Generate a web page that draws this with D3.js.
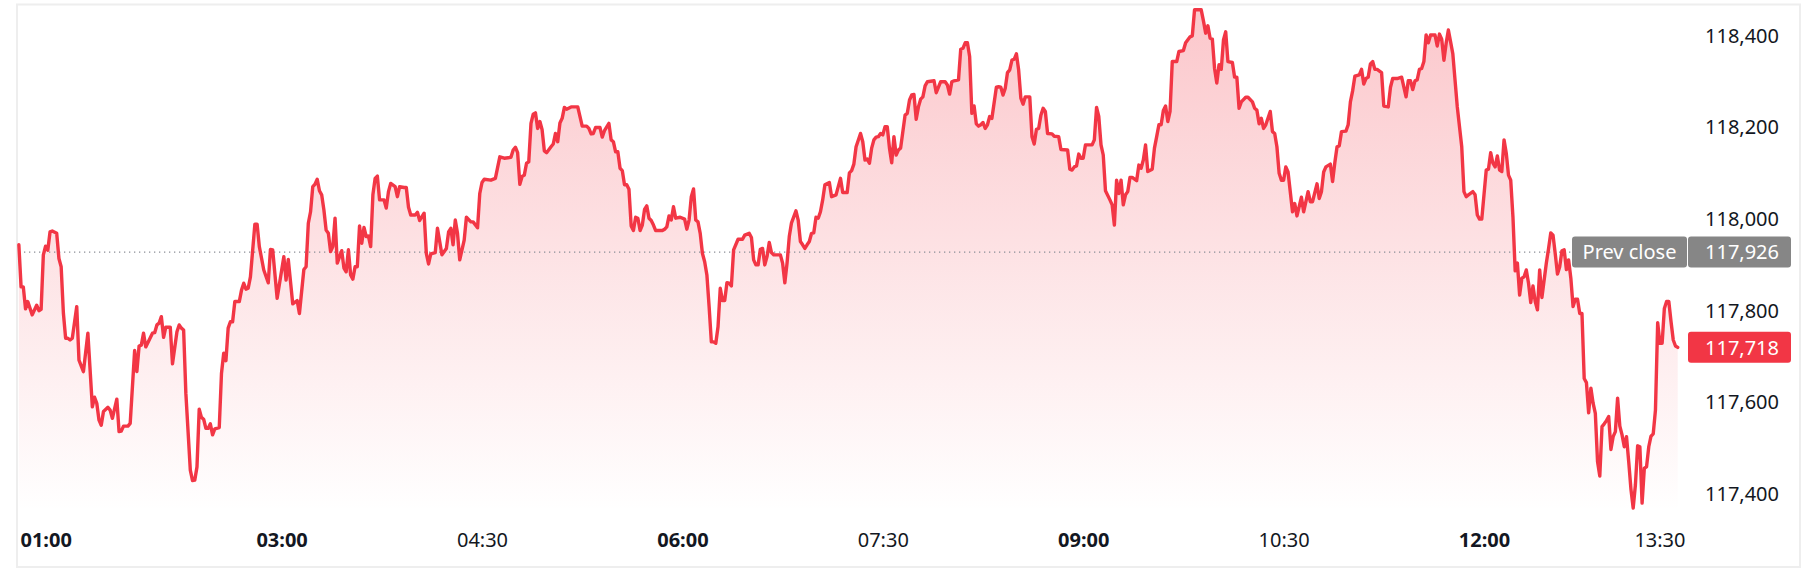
<!DOCTYPE html>
<html>
<head>
<meta charset="utf-8">
<script src="https://cdn.jsdelivr.net/npm/d3@7"></script>
<style>
  body { margin: 0; background: #fff; }
  svg { display: block; font-family: "Noto Sans", sans-serif; }
</style>
</head>
<body>
<script>
// session data: minutes after 01:00 and last price at that minute
const sessionStart = "01:00";
const sessionEnd = "13:30";

const minutes = [
  2, 3, 4, 5, 6, 8, 10, 11, 12, 13, 14, 15, 16, 17, 19, 20, 21, 22, 23, 24,
  25, 26, 28, 29, 31, 33, 35, 36, 37, 38, 39, 40, 42, 43, 44, 46, 47, 48, 49, 51,
  52, 54, 55, 56, 57, 58, 59, 62, 63, 64, 65, 66, 67, 68, 70, 71, 73, 74, 75, 76,
  77, 79, 80, 81, 82, 83, 84, 85, 86, 87, 88, 89, 90, 92, 93, 94, 95, 96, 97, 98,
  99, 101, 102, 103, 104, 105, 106, 108, 109, 110, 112, 114, 115, 116, 118, 121, 122, 123, 125, 127,
  128, 130, 131, 132, 133, 134, 135, 136, 137, 138, 139, 140, 141, 142, 143, 144, 145, 147, 148, 149,
  150, 151, 152, 153, 154, 155, 156, 157, 158, 159, 160, 161, 162, 163, 164, 166, 167, 168, 169, 171,
  172, 173, 175, 176, 177, 178, 180, 181, 182, 184, 185, 186, 187, 189, 190, 192, 194, 195, 196, 197,
  198, 199, 200, 202, 203, 205, 206, 208, 209, 210, 211, 214, 216, 218, 220, 223, 224, 225, 226, 227,
  228, 229, 230, 231, 232, 233, 234, 235, 236, 237, 238, 239, 241, 242, 243, 244, 245, 246, 247, 248,
  250, 253, 255, 257, 258, 259, 260, 261, 263, 264, 265, 267, 268, 269, 270, 271, 272, 273, 274, 275,
  276, 277, 278, 279, 280, 281, 282, 283, 284, 285, 286, 287, 288, 291, 292, 293, 294, 295, 296, 297,
  299, 301, 302, 303, 304, 305, 306, 307, 308, 309, 310, 311, 312, 313, 314, 315, 316, 317, 318, 319,
  320, 321, 322, 323, 325, 327, 328, 330, 331, 332, 333, 334, 335, 336, 337, 338, 339, 340, 341, 344,
  345, 346, 347, 348, 349, 351, 352, 353, 354, 355, 356, 357, 358, 359, 360, 361, 362, 363, 364, 366,
  367, 369, 370, 371, 372, 374, 375, 376, 377, 378, 380, 381, 382, 383, 384, 385, 386, 387, 388, 389,
  390, 391, 392, 393, 394, 395, 396, 397, 398, 400, 401, 402, 403, 404, 405, 406, 407, 408, 409, 410,
  413, 414, 415, 416, 418, 419, 420, 421, 422, 424, 425, 426, 427, 428, 429, 430, 431, 432, 433, 434,
  435, 436, 437, 438, 439, 441, 442, 443, 444, 445, 446, 447, 448, 449, 450, 451, 452, 453, 454, 456,
  457, 458, 459, 460, 461, 462, 463, 464, 466, 467, 469, 470, 473, 474, 475, 476, 477, 478, 479, 480,
  481, 484, 485, 486, 487, 488, 489, 490, 492, 493, 494, 495, 496, 497, 498, 499, 500, 501, 502, 504,
  505, 506, 507, 508, 509, 511, 512, 513, 514, 515, 516, 517, 518, 519, 520, 522, 523, 525, 526, 528,
  529, 530, 533, 534, 535, 536, 537, 538, 539, 540, 541, 542, 543, 544, 545, 547, 548, 549, 550, 551,
  553, 554, 556, 557, 558, 559, 560, 561, 562, 564, 565, 566, 567, 568, 569, 570, 571, 572, 574, 575,
  576, 578, 579, 581, 582, 583, 585, 586, 587, 588, 589, 591, 592, 593, 594, 595, 596, 598, 599, 600,
  601, 602, 604, 605, 606, 607, 608, 609, 610, 611, 612, 614, 615, 617, 618, 619, 621, 623, 625, 626,
  627, 628, 629, 630, 631, 632, 633, 634, 635, 636, 638, 639, 640, 641, 642, 643, 644, 645, 646, 648,
  650, 651, 652, 653, 655, 656, 657, 658, 659, 661, 662, 663, 664, 665, 666, 667, 668, 669, 670, 671,
  672, 673, 674, 675, 676, 677, 678, 679, 680, 681, 682, 683, 684, 685, 686, 688, 689, 690, 691, 692,
  693, 694, 695, 696, 697, 698, 699, 700, 701, 702, 703, 704, 705, 706, 707, 708, 709, 710, 711, 712,
  713, 714, 715, 716, 717, 718, 719, 720, 721, 722, 723, 724, 725, 726, 727, 728, 729, 730, 731, 732,
  733, 734, 735, 736, 737, 738, 739, 740, 741, 742, 743, 744, 745, 746, 747
];

const prices = [
  117942, 117850, 117850, 117802, 117818, 117789, 117810, 117798, 117801, 117920, 117939, 117930, 117970, 117972, 117967, 117912, 117894, 117793, 117738, 117738,
  117734, 117738, 117807, 117690, 117665, 117749, 117588, 117609, 117596, 117559, 117548, 117578, 117587, 117581, 117563, 117605, 117534, 117535, 117546, 117546,
  117552, 117711, 117665, 117721, 117723, 117749, 117719, 117749, 117750, 117767, 117771, 117785, 117740, 117762, 117762, 117682, 117752, 117767, 117760, 117756,
  117618, 117450, 117427, 117428, 117457, 117583, 117565, 117561, 117541, 117541, 117551, 117527, 117540, 117543, 117661, 117705, 117689, 117760, 117774, 117774,
  117818, 117818, 117843, 117858, 117845, 117847, 117872, 117987, 117987, 117938, 117887, 117859, 117932, 117931, 117825, 117916, 117865, 117910, 117813, 117820,
  117792, 117888, 117894, 117989, 118014, 118069, 118074, 118085, 118060, 118051, 118018, 117974, 117967, 117927, 117938, 118000, 117902, 117929, 117891, 117883,
  117931, 117876, 117867, 117894, 117894, 117983, 117945, 117980, 117960, 117961, 117938, 118051, 118087, 118092, 118040, 118040, 118022, 118058, 118076, 118069,
  118047, 118069, 118067, 118067, 118024, 118007, 118007, 118013, 117995, 118011, 117923, 117900, 117922, 117925, 117978, 117920, 117934, 117970, 117978, 117942,
  117996, 117967, 117909, 117952, 118002, 117992, 117992, 117979, 118054, 118078, 118085, 118083, 118087, 118134, 118131, 118133, 118149, 118155, 118143, 118074,
  118091, 118094, 118120, 118123, 118207, 118227, 118230, 118196, 118211, 118193, 118147, 118143, 118156, 118162, 118185, 118167, 118208, 118218, 118242, 118238,
  118243, 118243, 118201, 118201, 118196, 118184, 118185, 118198, 118198, 118177, 118191, 118207, 118171, 118167, 118145, 118145, 118109, 118104, 118073, 118073,
  118063, 117983, 117973, 118002, 118000, 117973, 117985, 118019, 118027, 118000, 117995, 117985, 117973, 117973, 117976, 117981, 118005, 117996, 118025, 118000,
  118002, 117998, 117976, 117996, 118047, 118064, 117996, 117992, 117967, 117923, 117905, 117876, 117807, 117730, 117730, 117727, 117763, 117847, 117820, 117820,
  117859, 117858, 117852, 117931, 117954, 117954, 117963, 117967, 117958, 117909, 117898, 117898, 117932, 117934, 117898, 117916, 117947, 117925, 117920, 117920,
  117902, 117859, 117902, 117960, 117990, 118016, 117996, 117949, 117942, 117934, 117942, 117949, 117967, 117968, 118002, 118000, 118014, 118040, 118073, 118078,
  118047, 118051, 118069, 118087, 118056, 118056, 118099, 118104, 118118, 118156, 118185, 118167, 118127, 118129, 118120, 118153, 118171, 118177, 118178, 118185,
  118182, 118200, 118200, 118153, 118121, 118178, 118138, 118149, 118153, 118225, 118229, 118258, 118269, 118270, 118216, 118243, 118260, 118265, 118289, 118298,
  118300, 118274, 118286, 118298, 118298, 118291, 118271, 118298, 118300, 118302, 118369, 118371, 118383, 118383, 118353, 118229, 118245, 118206, 118201, 118204,
  118209, 118196, 118204, 118222, 118218, 118286, 118287, 118286, 118269, 118284, 118318, 118324, 118345, 118347, 118359, 118324, 118262, 118249, 118265, 118265,
  118178, 118162, 118194, 118196, 118225, 118240, 118233, 118185, 118184, 118179, 118178, 118150, 118149, 118107, 118105, 118112, 118114, 118140, 118131, 118131,
  118160, 118160, 118171, 118242, 118222, 118160, 118138, 118060, 118040, 118029, 117985, 118083, 118054, 118083, 118029, 118051, 118058, 118089, 118089, 118082,
  118116, 118109, 118127, 118160, 118102, 118107, 118153, 118178, 118204, 118204, 118235, 118245, 118211, 118233, 118342, 118342, 118364, 118366, 118383, 118396,
  118398, 118455, 118455, 118431, 118404, 118420, 118393, 118391, 118327, 118295, 118335, 118325, 118389, 118407, 118342, 118340, 118308, 118308, 118240, 118254,
  118264, 118264, 118254, 118240, 118236, 118206, 118218, 118196, 118204, 118233, 118189, 118185, 118156, 118098, 118083, 118083, 118112, 118101, 118014, 118032,
  118005, 118046, 118014, 118058, 118036, 118036, 118075, 118043, 118058, 118101, 118112, 118118, 118080, 118121, 118156, 118158, 118189, 118190, 118204, 118254,
  118278, 118310, 118313, 118325, 118293, 118305, 118308, 118337, 118342, 118325, 118325, 118318, 118245, 118243, 118286, 118305, 118305, 118308, 118265, 118300,
  118300, 118281, 118300, 118302, 118325, 118327, 118342, 118400, 118383, 118400, 118400, 118376, 118402, 118391, 118345, 118382, 118411, 118385, 118359, 118243,
  118156, 118058, 118047, 118051, 118058, 118051, 118007, 117998, 117998, 118105, 118107, 118143, 118120, 118112, 118136, 118105, 118102, 118171, 118142, 118094,
  118083, 118003, 117885, 117902, 117832, 117869, 117872, 117887, 117858, 117816, 117852, 117818, 117800, 117887, 117827, 117902, 117934, 117968, 117963, 117922,
  117878, 117894, 117929, 117931, 117888, 117909, 117869, 117807, 117823, 117823, 117792, 117792, 117650, 117641, 117575, 117629, 117596, 117574, 117468, 117437,
  117545, 117551, 117558, 117567, 117495, 117523, 117534, 117607, 117546, 117527, 117501, 117523, 117468, 117408, 117367, 117418, 117503, 117501, 117378, 117454,
  117457, 117501, 117524, 117529, 117581, 117772, 117727, 117727, 117803, 117818, 117818, 117774, 117734, 117721, 117718
];

const prevClose = 117926;
const priceTicks = [117400, 117600, 117800, 118000, 118200, 118400];
const timeTicks = ["01:00", "03:00", "04:30", "06:00", "07:30", "09:00", "10:30", "12:00", "13:30"];
const boldTicks = ["01:00", "03:00", "06:00", "09:00", "12:00"];

const width = 1818;
const height = 574;
const paneLeft = 17, paneRight = 1687, paneTop = 5, paneBottom = 512;
const labelRight = 1779;
const red = "#F23645";

const parseTime = d3.timeParse("%H:%M");
const fmtTime = d3.timeFormat("%H:%M");
const start = parseTime(sessionStart);

const data = minutes.map((m, i) => ({
  date: d3.timeMinute.offset(start, m),
  price: prices[i]
}));

const svg = d3.select("body")
  .append("svg")
  .attr("width", width)
  .attr("height", height);

// X scale
const x = d3.scaleTime()
  .domain([start, parseTime(sessionEnd)])
  .range([14.4, 1684.4]);

// Y scale
const y = d3.scaleLinear()
  .domain([117400, 118400])
  .range([493, 35]);

// outer frame
svg.append("rect")
  .attr("x", 17)
  .attr("y", 4.5)
  .attr("width", 1800 - 17)
  .attr("height", 567 - 4.5)
  .attr("fill", "none")
  .attr("stroke", "#eeeeee")
  .attr("stroke-width", 2);

// area gradient
const grad = svg.append("defs").append("linearGradient")
  .attr("id", "areaFill")
  .attr("gradientUnits", "userSpaceOnUse")
  .attr("x1", 0).attr("y1", paneTop)
  .attr("x2", 0).attr("y2", paneBottom);
grad.append("stop").attr("offset", 0).attr("stop-color", red).attr("stop-opacity", 0.28);
grad.append("stop").attr("offset", 1).attr("stop-color", red).attr("stop-opacity", 0.0);

const area = d3.area()
  .x(d => x(d.date))
  .y0(paneBottom)
  .y1(d => y(d.price));

svg.append("path")
  .datum(data)
  .attr("fill", "url(#areaFill)")
  .attr("d", area);

// prev close dotted line
const yPrev = y(prevClose);
svg.append("line")
  .attr("x1", paneLeft + 2)
  .attr("x2", 1572)
  .attr("y1", yPrev)
  .attr("y2", yPrev)
  .attr("stroke", "#8a8d96")
  .attr("stroke-width", 1.2)
  .attr("stroke-dasharray", "1.3 3.7");

// price line
const line = d3.line()
  .x(d => x(d.date))
  .y(d => y(d.price));

svg.append("path")
  .datum(data)
  .attr("fill", "none")
  .attr("stroke", red)
  .attr("stroke-width", 3.4)
  .attr("stroke-linejoin", "round")
  .attr("stroke-linecap", "round")
  .attr("d", line);

// y axis (right)
const yAxis = svg.append("g")
  .attr("transform", `translate(${labelRight},0)`)
  .call(d3.axisRight(y).tickValues(priceTicks).tickFormat(d3.format(",")).tickSize(0));
yAxis.select(".domain").remove();
yAxis.selectAll("text")
  .attr("x", 0)
  .attr("dy", "0.36em")
  .attr("text-anchor", "end")
  .attr("fill", "#131722")
  .style("font-family", "'Noto Sans', sans-serif")
  .style("font-size", "20px");

// x axis
const tickDates = timeTicks.map(parseTime);
const xAxis = svg.append("g")
  .attr("transform", "translate(0,540)")
  .call(d3.axisBottom(x).tickValues(tickDates).tickFormat(fmtTime).tickSize(0));
xAxis.select(".domain").remove();
xAxis.selectAll("text")
  .attr("y", 0)
  .attr("dy", "0.36em")
  .attr("fill", "#131722")
  .style("font-family", "'Noto Sans', sans-serif")
  .style("font-size", "20px")
  .style("font-weight", d => boldTicks.includes(fmtTime(d)) ? 700 : 400)
  .each(function(d) {
    const w = this.getComputedTextLength();
    const cx = x(d);
    let shift = 0;
    if (cx - w / 2 < paneLeft + 3) shift = paneLeft + 3 - (cx - w / 2);
    if (cx + w / 2 > paneRight - 2) shift = paneRight - 2 - (cx + w / 2);
    d3.select(this).attr("x", shift);
  });

// prev close label
const prevG = svg.append("g");
prevG.append("rect")
  .attr("x", 1572).attr("y", yPrev - 15.5)
  .attr("width", 1687 - 1572).attr("height", 31)
  .attr("rx", 3)
  .attr("fill", "#868686");
prevG.append("rect")
  .attr("x", 1688).attr("y", yPrev - 15.5)
  .attr("width", 1791 - 1688).attr("height", 31)
  .attr("rx", 3)
  .attr("fill", "#868686");
prevG.append("text")
  .attr("x", (1572 + 1687) / 2)
  .attr("y", yPrev)
  .attr("dy", "0.36em")
  .attr("text-anchor", "middle")
  .attr("fill", "#fff")
  .style("font-size", "20px")
  .text("Prev close");
prevG.append("text")
  .attr("x", labelRight)
  .attr("y", yPrev)
  .attr("dy", "0.36em")
  .attr("text-anchor", "end")
  .attr("fill", "#fff")
  .style("font-size", "20px")
  .text(d3.format(",")(prevClose));

// last price label
const lastPrice = prices[prices.length - 1];
const yLast = y(lastPrice);
svg.append("rect")
  .attr("x", 1688).attr("y", yLast - 15.5)
  .attr("width", 1791 - 1688).attr("height", 31)
  .attr("rx", 3)
  .attr("fill", red);
svg.append("text")
  .attr("x", labelRight)
  .attr("y", yLast)
  .attr("dy", "0.36em")
  .attr("text-anchor", "end")
  .attr("fill", "#fff")
  .style("font-size", "20px")
  .text(d3.format(",")(lastPrice));
</script>
</body>
</html>
